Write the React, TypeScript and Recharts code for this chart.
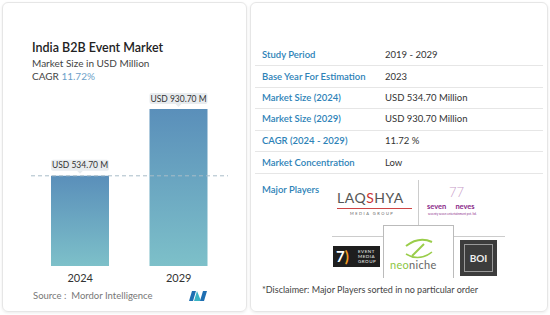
import { BarChart, Bar, XAxis, YAxis, ReferenceLine, LabelList } from 'recharts';

const years = ['2024', '2029'];
const marketSize = [534.7, 930.7];
const barLabels = ['USD 534.70 M', 'USD 930.70 M'];

const tableLabels = [
  'Study Period',
  'Base Year For Estimation',
  'Market Size (2024)',
  'Market Size (2029)',
  'CAGR (2024 - 2029)',
  'Market Concentration',
];
const tableValues = ['2019 - 2029', '2023', 'USD 534.70 Million', 'USD 930.70 Million', '11.72 %', 'Low'];

const data = years.map((year, i) => ({ year, value: marketSize[i], label: barLabels[i] }));

const font = 'Lato, "Open Sans", sans-serif';

function ValueTag(props: any) {
  const { x, y, width, value } = props;
  const cx = x + width / 2;
  const w = 58;
  const h = 11;
  const top = y - h - 5;
  return (
    <g>
      <rect x={cx - w / 2} y={top} width={w} height={h} rx={2} fill="#e8ecef" />
      <path d={`M${cx - 3},${top + h} L${cx},${top + h + 3} L${cx + 3},${top + h} Z`} fill="#e8ecef" />
      <text x={cx} y={top + h / 2 + 3} textAnchor="middle" fontSize={8.5} fill="#333" fontFamily={font}>
        {value}
      </text>
    </g>
  );
}

function Txt({ x, y, size, color, weight, children }: any) {
  return (
    <div
      style={{
        position: 'absolute',
        left: x,
        top: y - size / 2,
        fontSize: size,
        lineHeight: `${size}px`,
        color,
        fontWeight: weight || 400,
        whiteSpace: 'nowrap',
      }}
    >
      {children}
    </div>
  );
}

const rowY = [55, 77, 98, 119, 141, 163];
const sepY = [65, 87, 108, 130, 151, 173];

export default function App() {
  return (
    <div
      style={{
        position: 'absolute',
        left: 0,
        top: 0,
        width: 550,
        height: 315,
        background: '#fff',
        fontFamily: font,
        overflow: 'hidden',
      }}
    >
      {/* left card */}
      <div
        style={{
          position: 'absolute',
          left: 2,
          top: 2,
          width: 243,
          height: 308,
          border: '1px solid #e6e6e6',
          borderRadius: 6,
          boxShadow: '0 1px 3px rgba(0,0,0,0.08)',
        }}
      />
      {/* right card */}
      <div
        style={{
          position: 'absolute',
          left: 250,
          top: 2,
          width: 296,
          height: 308,
          border: '1px solid #e6e6e6',
          borderRadius: 6,
          boxShadow: '0 1px 3px rgba(0,0,0,0.08)',
        }}
      />

      <Txt x={32} y={48} size={12.5} color="#222" weight={600}>India B2B Event Market</Txt>
      <Txt x={32} y={63} size={10} color="#444">Market Size in USD Million</Txt>
      <Txt x={32} y={76} size={10} color="#444">
        CAGR <span style={{ color: '#6d9fc9' }}>11.72%</span>
      </Txt>

      <div style={{ position: 'absolute', left: 0, top: 80 }}>
        <BarChart width={245} height={210} data={data} margin={{ top: 29, right: 17, left: 31, bottom: 0 }}>
          <defs>
            <linearGradient id="barGrad" x1="0" y1="0" x2="0" y2="1">
              <stop offset="0%" stopColor="#5a8fba" />
              <stop offset="100%" stopColor="#7dc0c9" />
            </linearGradient>
          </defs>
          <XAxis
            dataKey="year"
            axisLine={false}
            tickLine={false}
            height={24}
            tick={{ fontSize: 11, fill: '#333', fontFamily: font }}
          />
          <YAxis hide domain={[0, 930.7]} />
          <ReferenceLine y={534.7} stroke="#a9bcc8" strokeDasharray="4 3" />
          <Bar dataKey="value" fill="url(#barGrad)" barSize={58} isAnimationActive={false}>
            <LabelList dataKey="label" content={<ValueTag />} />
          </Bar>
        </BarChart>
      </div>

      <Txt x={33} y={296} size={9.5} color="#777">Source :&nbsp; Mordor Intelligence</Txt>
      <svg style={{ position: 'absolute', left: 189, top: 291 }} width={19} height={10}>
        <path d="M0,10 L3,0 L7,0 L4,10 Z" fill="#1f6fb2" />
        <path d="M5,10 L8,0 L12,10 Z" fill="#3ab3c4" />
        <path d="M11,10 L14,0 L18,0 L15,10 Z" fill="#1f6fb2" />
      </svg>

      {/* table */}
      {tableLabels.map((l, i) => (
        <Txt key={l} x={262} y={rowY[i]} size={9.5} color="#2d82b7" weight={600}>{l}</Txt>
      ))}
      {tableValues.map((v, i) => (
        <Txt key={v} x={385} y={rowY[i]} size={9.5} color="#333">{v}</Txt>
      ))}
      {sepY.map((y) => (
        <div key={y} style={{ position: 'absolute', left: 255, top: y, width: 288, height: 1, background: '#e6e6e6' }} />
      ))}
      <Txt x={262} y={190} size={9.5} color="#2d82b7" weight={600}>Major Players</Txt>

      {/* logos */}
      <div style={{ position: 'absolute', left: 418, top: 180, width: 1, height: 57, background: '#ccc' }} />
      <div style={{ position: 'absolute', left: 332, top: 236, width: 173, height: 1, background: '#ccc' }} />
      <div style={{ position: 'absolute', left: 337, top: 191, fontSize: 14, color: '#555', letterSpacing: 0.5, lineHeight: '14px' }}>
        LAQ<span style={{ color: '#c33' }}>S</span>HYA
      </div>
      <div style={{ position: 'absolute', left: 337, top: 208, width: 75, height: 1, background: '#c44' }} />
      <div style={{ position: 'absolute', left: 350, top: 212, fontSize: 4, color: '#666', letterSpacing: 1.5, lineHeight: '4px' }}>
        MEDIA GROUP
      </div>
      <div style={{ position: 'absolute', left: 449, top: 186, fontSize: 13, color: '#c79ac8', lineHeight: '13px', fontWeight: 300 }}>
        77
      </div>
      <div style={{ position: 'absolute', left: 427, top: 203, fontSize: 7.5, color: '#8b2a8a', lineHeight: '8px', fontWeight: 700 }}>
        seven&nbsp;&nbsp;&nbsp;&nbsp;&nbsp;neves
      </div>
      <div style={{ position: 'absolute', left: 428, top: 213, fontSize: 3, color: '#8b2a8a', lineHeight: '3px' }}>
        seventy seven entertainment pvt. ltd.
      </div>
      <div style={{ position: 'absolute', left: 333, top: 246, width: 47, height: 21, background: '#1e1e1e' }}>
        <div style={{ position: 'absolute', left: 3, top: 2, fontSize: 15, color: '#fff', fontWeight: 700, lineHeight: '16px' }}>
          7<span style={{ color: '#f39a1e' }}>)</span>
        </div>
        <div style={{ position: 'absolute', left: 25, top: 3, fontSize: 4.5, color: '#eee', lineHeight: '5px', letterSpacing: 0.5 }}>
          EVENT<br />MEDIA<br />GROUP
        </div>
      </div>
      <div
        style={{
          position: 'absolute',
          left: 383,
          top: 225,
          width: 69,
          height: 52,
          border: '1px solid #bbb',
          borderBottom: 'none',
          background: '#fff',
        }}
      >
        <svg style={{ position: 'absolute', left: 20, top: 12 }} width={30} height={22}>
          <path d="M2,8 Q15,-2 28,4" stroke="#9acd4a" strokeWidth={2} fill="none" />
          <path d="M20,6 L8,18" stroke="#9acd4a" strokeWidth={2} fill="none" />
          <path d="M2,16 Q15,24 28,14" stroke="#9acd4a" strokeWidth={1.5} fill="none" />
        </svg>
        <div style={{ position: 'absolute', left: 6, top: 33, fontSize: 11, color: '#666', lineHeight: '11px', letterSpacing: 0.3 }}>
          <span style={{ color: '#8cc63f' }}>neo</span>niche
        </div>
      </div>
      <div style={{ position: 'absolute', left: 460, top: 240, width: 37, height: 36, background: '#3c3c3c' }}>
        <div
          style={{
            position: 'absolute',
            left: 4,
            top: 4,
            width: 27,
            height: 26,
            border: '1px solid #999',
            color: '#eee',
            fontSize: 10,
            fontWeight: 700,
            textAlign: 'center',
            lineHeight: '26px',
          }}
        >
          BOI
        </div>
      </div>

      <Txt x={262} y={289} size={9} color="#444">*Disclaimer: Major Players sorted in no particular order</Txt>
    </div>
  );
}
